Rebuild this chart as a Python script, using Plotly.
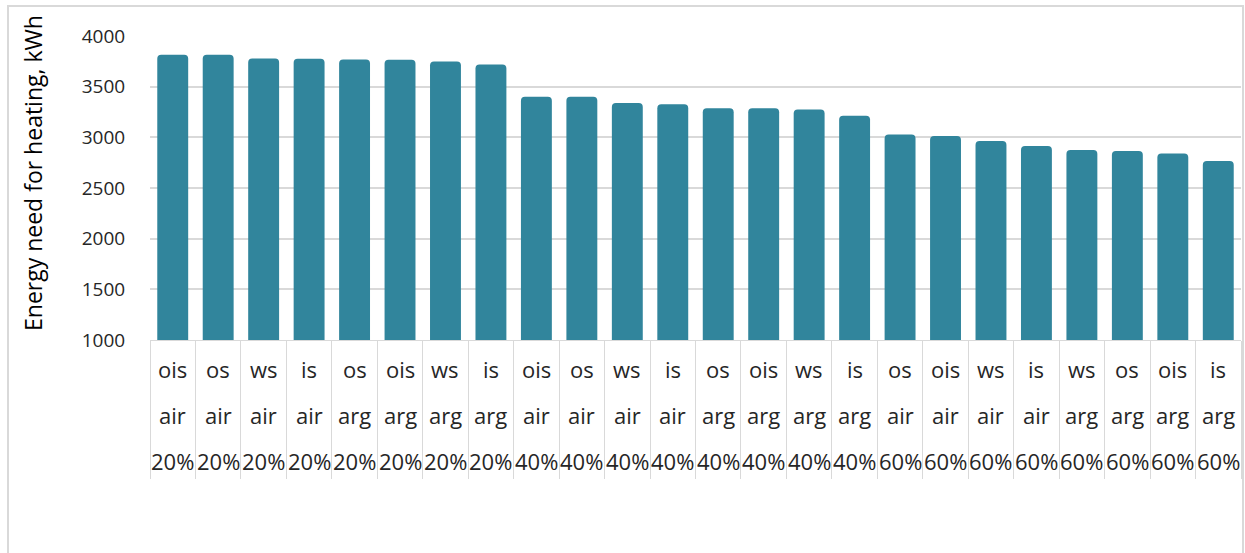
import plotly.graph_objects as go

insulation = ["ois", "os", "ws", "is", "os", "ois", "ws", "is",
              "ois", "os", "ws", "is", "os", "ois", "ws", "is",
              "os", "ois", "ws", "is", "ws", "os", "ois", "is"]
gas = ["air", "air", "air", "air", "arg", "arg", "arg", "arg",
       "air", "air", "air", "air", "arg", "arg", "arg", "arg",
       "air", "air", "air", "air", "arg", "arg", "arg", "arg"]
glazing = ["20%"] * 8 + ["40%"] * 8 + ["60%"] * 8
energy = [3815, 3815, 3778, 3776, 3768, 3766, 3748, 3718,
          3401, 3400, 3340, 3326, 3288, 3286, 3274, 3214,
          3027, 3014, 2964, 2914, 2876, 2866, 2840, 2767]
y_ticks = [1000, 1500, 2000, 2500, 3000, 3500, 4000]
y_title = "Energy need for heating, kWh"

cats = [f"{a}|{b}|{c}" for a, b, c in zip(insulation, gas, glazing)]

W, H = 1245, 553
L, R, T, B = 150, 4, 36, 213
plot_h = H - T - B
plot_w = W - L - R


def py(p):
    return (H - B - p) / plot_h


def px(p):
    return (p - L) / plot_w


FONT = "Open Sans"
TXT = "#262626"
GRID = "#D9D9D9"

fig = go.Figure(go.Bar(
    x=cats, y=energy,
    marker=dict(color="#31859C", line=dict(width=0)),
    hoverinfo="x+y",
))

ann = []
rows = [(insulation, 369), (gas, 415), (glazing, 461)]
for labels, ypix in rows:
    for c, lab in zip(cats, labels):
        ann.append(dict(x=c, xref="x", y=py(ypix), yref="paper", text=lab,
                        showarrow=False, xanchor="center", yanchor="middle",
                        font=dict(family=FONT, size=22, color=TXT)))
ann.append(dict(x=px(33), xref="paper", y=py(173), yref="paper", text=y_title,
                textangle=-90, showarrow=False, xanchor="center", yanchor="middle",
                font=dict(family=FONT, size=23, color="#000000")))

fig.update_layout(
    width=W, height=H,
    margin=dict(l=L, r=R, t=T, b=B),
    paper_bgcolor="white", plot_bgcolor="white",
    bargap=0.32, barcornerradius=4,
    showlegend=False,
    annotations=ann,
    shapes=[dict(type="rect", xref="paper", yref="paper",
                 x0=px(8), x1=px(1243), y0=py(600), y1=py(6),
                 line=dict(color=GRID, width=2), layer="below")],
    xaxis=dict(type="category", categoryorder="array", categoryarray=cats,
               range=[-0.5, len(cats) - 0.5],
               showticklabels=False, showgrid=False,
               showline=True, linecolor=GRID, linewidth=1,
               ticks="outside", tickson="boundaries", ticklen=138,
               tickcolor=GRID, tickwidth=1),
    yaxis=dict(range=[1000, 4000], tickvals=y_ticks,
               showgrid=True, gridcolor=GRID, gridwidth=1.5,
               zeroline=False, showline=False,
               ticks="outside", ticklen=20, tickcolor="rgba(0,0,0,0)",
               tickfont=dict(family=FONT, size=19, color=TXT)),
)

fig.write_html("out.html",
               config={"displayModeBar": False},
               post_script="document.body.style.margin='0';"
                           "document.body.style.overflow='hidden';")
